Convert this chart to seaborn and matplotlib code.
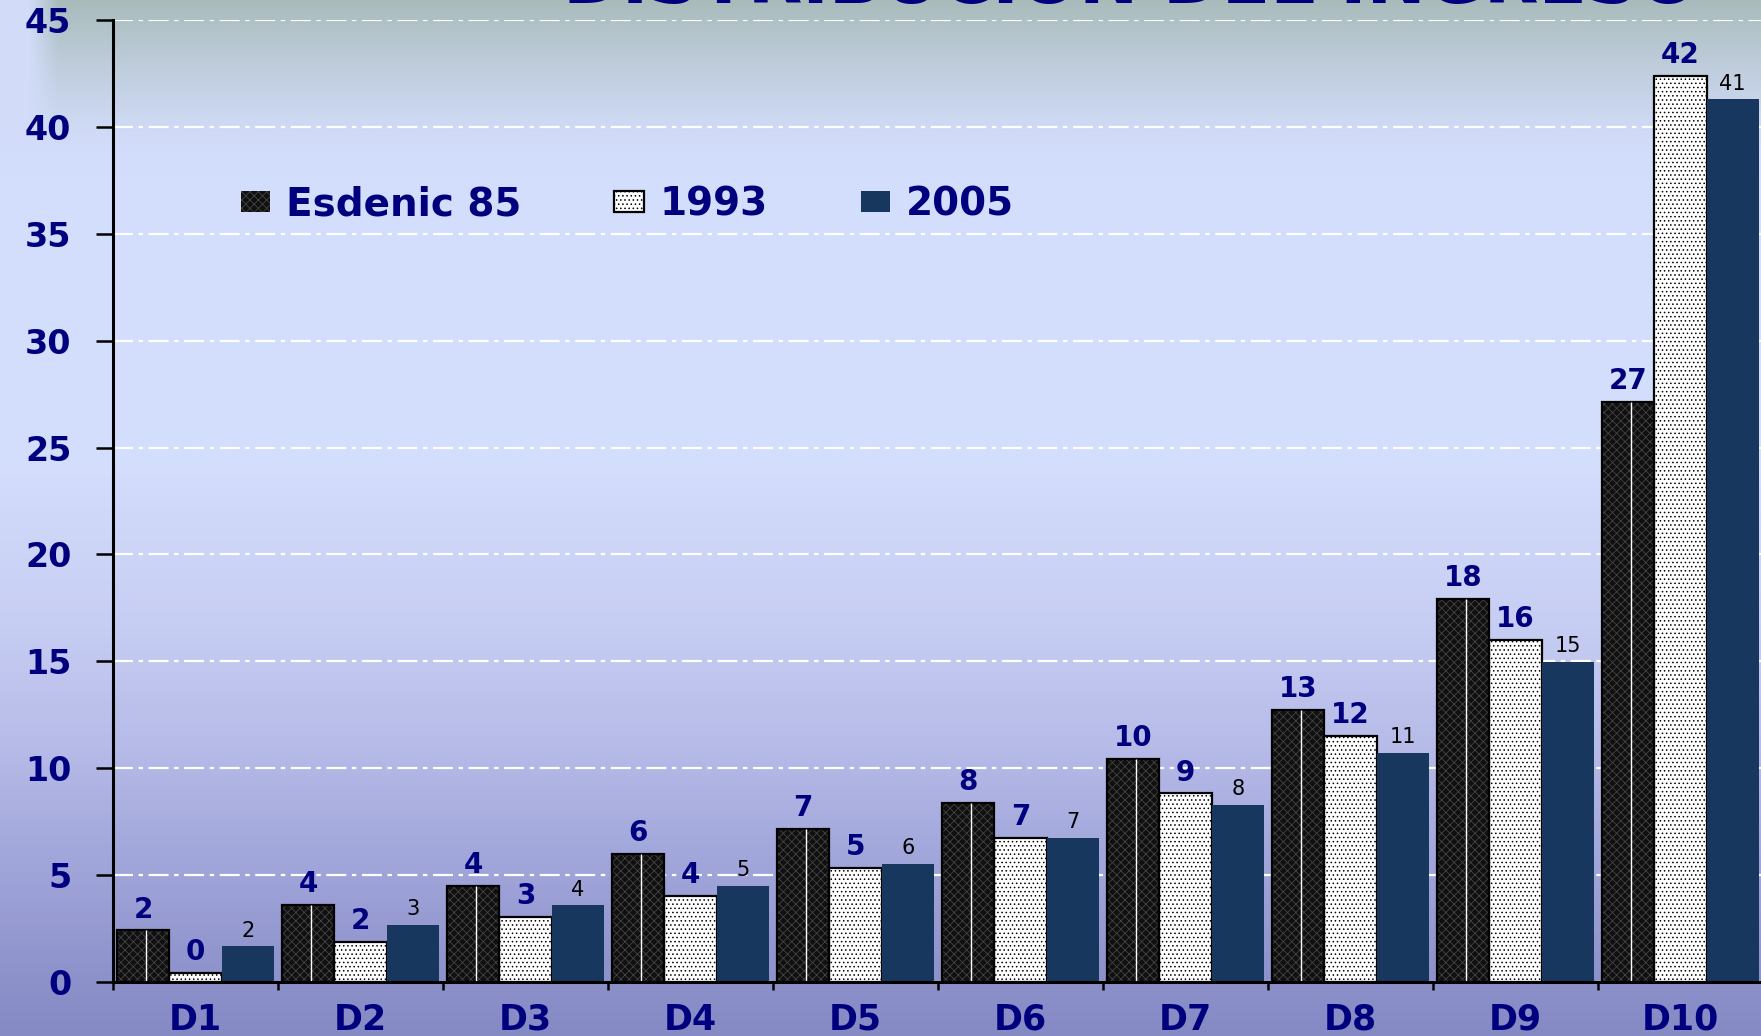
import numpy as np
import pandas as pd
import matplotlib
matplotlib.use("Agg")
import matplotlib.pyplot as plt
import seaborn as sns
from matplotlib.patches import Rectangle
from matplotlib.colors import to_rgb

# ---------------- data ----------------
deciles = ["D1", "D2", "D3", "D4", "D5", "D6", "D7", "D8", "D9", "D10"]
series = ["Esdenic 85", "1993", "2005"]
esdenic_85 = [2.41, 3.59, 4.48, 6.01, 7.16, 8.37, 10.45, 12.71, 17.92, 27.12]
y1993 = [0.43, 1.89, 3.05, 4.02, 5.32, 6.74, 8.82, 11.52, 16.02, 42.40]
y2005 = [1.68, 2.67, 3.59, 4.49, 5.53, 6.74, 8.30, 10.72, 14.98, 41.30]
lbl_esdenic = [2, 4, 4, 6, 7, 8, 10, 13, 18, 27]
lbl_1993 = [0, 2, 3, 4, 5, 7, 9, 12, 16, 42]
lbl_2005 = [2, 3, 4, 5, 6, 7, 8, 11, 15, 41]
y_ticks = [0, 5, 10, 15, 20, 25, 30, 35, 40, 45]
title = "DISTRIBUCION DEL INGRESO"

navy = "#00007f"
bar_colors = ["#101010", "#ffffff", "#17375e"]

plt.rcParams["font.family"] = ["DejaVu Sans"]
plt.rcParams["hatch.linewidth"] = 0.6

W, H = 1761, 1036
fig = plt.figure(figsize=(W / 100, H / 100), dpi=100)

# ---------------- background gradient ----------------
stops_y = [0.0, 0.10, 0.17, 0.45, 0.60, 0.72, 0.82, 0.92, 1.0]
stops_c = ["#d3ddfa", "#d2dcf9", "#d3ddfc", "#d4ddfc", "#c7cef3",
           "#b6bbe8", "#a3a8dc", "#9296ce", "#8589c4"]
yy = np.linspace(0, 1, H)
base = np.stack([np.interp(yy, stops_y, [to_rgb(c)[k] for c in stops_c])
                 for k in range(3)], axis=-1)
img = np.repeat(base[:, None, :], W, axis=1)
grey = np.array(to_rgb("#a8bbba"))
a_y = np.clip(1 - np.arange(H) / 150, 0, 1) ** 1.3
a_x = np.clip((np.arange(W) - 28) / 30, 0, 1)
alpha = (a_y[:, None] * a_x[None, :])[..., None]
img = img * (1 - alpha) + grey * alpha
bg = fig.add_axes([0, 0, 1, 1], zorder=-10)
bg.imshow(img, aspect="auto", extent=(0, 1, 0, 1), origin="upper")
bg.axis("off")

# ---------------- main axes ----------------
ax = fig.add_axes([113 / W, 1 - 982 / H, 1650 / W, (982 - 20) / H])
ax.set_facecolor("none")

df = pd.DataFrame({
    "Decil": deciles * 3,
    "Serie": [series[0]] * 10 + [series[1]] * 10 + [series[2]] * 10,
    "Valor": esdenic_85 + y1993 + y2005,
})
sns.barplot(data=df, x="Decil", y="Valor", hue="Serie", order=deciles,
            hue_order=series, palette=bar_colors, width=0.95, saturation=1,
            errorbar=None, legend=False, ax=ax)

c_es, c_93, c_05 = ax.containers
for p in c_es.patches:
    p.set_hatch("xxxx")
    p.set_edgecolor("#444444")
    p.set_linewidth(0)
    ax.add_patch(Rectangle(p.get_xy(), p.get_width(), p.get_height(),
                           fill=False, ec="black", lw=1.6, zorder=p.get_zorder() + 0.1))
    cx = p.get_x() + p.get_width() * 0.55
    ax.plot([cx, cx], [0, p.get_height()], color="white", lw=1.0,
            zorder=p.get_zorder() + 0.2, solid_capstyle="butt")
for p in c_93.patches:
    p.set_hatch("....")
    p.set_edgecolor("black")
    p.set_linewidth(1.6)
for p in c_05.patches:
    p.set_linewidth(0)

ax.bar_label(c_es, labels=[str(v) for v in lbl_esdenic], padding=5,
             color=navy, fontsize=20, fontweight="bold")
ax.bar_label(c_93, labels=[str(v) for v in lbl_1993], padding=5,
             color=navy, fontsize=20, fontweight="bold")
ax.bar_label(c_05, labels=[str(v) for v in lbl_2005], padding=4,
             color="black", fontsize=15)

# axes styling
ax.set_xlabel("")
ax.set_ylabel("")
ax.set_ylim(0, 45)
ax.set_yticks(y_ticks)
ax.set_xlim(-0.5, 9.5)
ax.set_xticks(np.arange(-0.5, 10, 1))
ax.set_xticklabels([])
ax.set_xticks(range(10), minor=True)
ax.set_xticklabels(deciles, minor=True)
ax.tick_params(axis="x", which="major", length=6, width=1.8, color="black")
ax.tick_params(axis="x", which="minor", length=0, pad=15, labelsize=25,
               labelcolor=navy)
ax.tick_params(axis="y", length=12, width=1.8, pad=18, labelsize=24,
               labelcolor=navy)
for lbl in ax.get_xticklabels(minor=True) + ax.get_yticklabels():
    lbl.set_fontweight("bold")
for s in ["top", "right"]:
    ax.spines[s].set_visible(False)
for s in ["left", "bottom"]:
    ax.spines[s].set_linewidth(2.2)
    ax.spines[s].set_color("black")
ax.set_axisbelow(True)
ax.yaxis.grid(True, color="white", lw=1.6, linestyle=(0, (9, 2.5, 2, 2.5)))
ax.xaxis.grid(False)

# legend
ax.legend([c_es.patches[0], c_93.patches[0], c_05.patches[0]], series,
          ncol=3, frameon=False, loc="center left",
          bbox_to_anchor=(241 / W, 1 - 204 / H), bbox_transform=fig.transFigure,
          borderpad=0, borderaxespad=0, handlelength=0.75, handleheight=0.45,
          handletextpad=0.4, columnspacing=2.4,
          prop={"weight": "bold", "size": 28}, labelcolor=navy)

# title (cut off at the top, as in the reference)
fig.text(1131 / W, 1 - 3 / H, title, ha="center", va="baseline",
         fontsize=51, fontweight="bold", color=navy)

fig.savefig("out.png", dpi=100)
